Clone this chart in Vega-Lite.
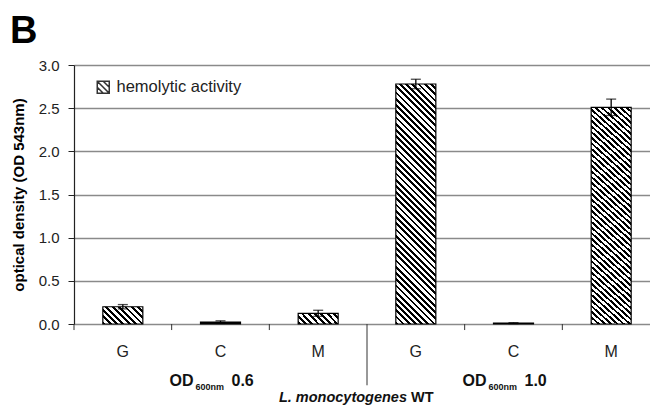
{
 "$schema": "https://vega.github.io/schema/vega-lite/v6.json",
 "autosize": "none",
 "width": 576,
 "height": 259,
 "padding": {"left": 74, "top": 65, "right": 0, "bottom": 89},
 "background": "white",
 "title": {"text": "B", "anchor": "start", "frame": "group", "fontSize": 38, "font": "Liberation Sans", "fontWeight": "bold", "color": "#000", "baseline": "alphabetic", "offset": 14, "dx": -64, "dy": 37},
 "config": {"view": {"stroke": null}, "font": "Liberation Sans"},
 "datasets": {
  "bars": [
   {"id": "G1", "value": 0.2, "err": 0.025},
   {"id": "C1", "value": 0.022, "err": 0.015},
   {"id": "M1", "value": 0.124, "err": 0.035},
   {"id": "G2", "value": 2.78, "err": 0.055},
   {"id": "C2", "value": 0.01, "err": 0.005},
   {"id": "M2", "value": 2.51, "err": 0.095}
  ]
 },
 "layer": [
  {
   "data": {"name": "bars"},
   "mark": {"type": "bar", "width": 40, "stroke": "#000", "strokeWidth": 1.2},
   "encoding": {
    "x": {"field": "id", "type": "nominal", "sort": null,
     "scale": {"domain": ["G1","C1","M1","G2","C2","M2"], "range": [0, 586], "paddingInner": 0, "paddingOuter": 0},
     "axis": {"title": null, "labelExpr": "datum.value ? substring(datum.value,0,1) : ''", "ticks": false, "domain": false, "labelAngle": 0, "labelFont": "Liberation Sans", "labelFontSize": 16, "labelColor": "#222", "labelPadding": 19, "grid": false}},
    "y": {"field": "value", "type": "quantitative",
     "scale": {"domain": [0, 3], "nice": false, "zero": true},
     "axis": {"title": "optical density (OD 543nm)", "values": [0, 0.5, 1, 1.5, 2, 2.5, 3], "format": ".1f", "grid": true, "gridColor": "#8a8a8a", "gridWidth": 1.3, "domainColor": "#222", "domainWidth": 1.2, "tickColor": "#222", "tickSize": 6, "labelPadding": 9, "labelFont": "Liberation Sans", "labelFontSize": 15, "labelColor": "#222", "titleFont": "Liberation Sans", "titleFontSize": 15, "titleFontWeight": "bold", "titleColor": "#000", "titlePadding": 14, "minExtent": 34, "maxExtent": 34}},
    "fill": {
     "condition": [
      {"test": "datum.id === 'G2' || datum.id === 'M2'", "value": {"gradient": "linear", "x1": 0, "y1": 1, "x2": 0.1892, "y2": -0.1351, "stops": [
       {"offset":0,"color":"#000"},{"offset":0.01,"color":"#000"},{"offset":0.01,"color":"#fff"},{"offset":0.0222,"color":"#fff"},
       {"offset":0.0222,"color":"#000"},{"offset":0.0322,"color":"#000"},{"offset":0.0322,"color":"#fff"},{"offset":0.0444,"color":"#fff"},
       {"offset":0.0444,"color":"#000"},{"offset":0.0544,"color":"#000"},{"offset":0.0544,"color":"#fff"},{"offset":0.0667,"color":"#fff"},
       {"offset":0.0667,"color":"#000"},{"offset":0.0767,"color":"#000"},{"offset":0.0767,"color":"#fff"},{"offset":0.0889,"color":"#fff"},
       {"offset":0.0889,"color":"#000"},{"offset":0.0989,"color":"#000"},{"offset":0.0989,"color":"#fff"},{"offset":0.1111,"color":"#fff"},
       {"offset":0.1111,"color":"#000"},{"offset":0.1211,"color":"#000"},{"offset":0.1211,"color":"#fff"},{"offset":0.1333,"color":"#fff"},
       {"offset":0.1333,"color":"#000"},{"offset":0.1433,"color":"#000"},{"offset":0.1433,"color":"#fff"},{"offset":0.1556,"color":"#fff"},
       {"offset":0.1556,"color":"#000"},{"offset":0.1656,"color":"#000"},{"offset":0.1656,"color":"#fff"},{"offset":0.1778,"color":"#fff"},
       {"offset":0.1778,"color":"#000"},{"offset":0.1878,"color":"#000"},{"offset":0.1878,"color":"#fff"},{"offset":0.2,"color":"#fff"},
       {"offset":0.2,"color":"#000"},{"offset":0.21,"color":"#000"},{"offset":0.21,"color":"#fff"},{"offset":0.2222,"color":"#fff"},
       {"offset":0.2222,"color":"#000"},{"offset":0.2322,"color":"#000"},{"offset":0.2322,"color":"#fff"},{"offset":0.2444,"color":"#fff"},
       {"offset":0.2444,"color":"#000"},{"offset":0.2544,"color":"#000"},{"offset":0.2544,"color":"#fff"},{"offset":0.2667,"color":"#fff"},
       {"offset":0.2667,"color":"#000"},{"offset":0.2767,"color":"#000"},{"offset":0.2767,"color":"#fff"},{"offset":0.2889,"color":"#fff"},
       {"offset":0.2889,"color":"#000"},{"offset":0.2989,"color":"#000"},{"offset":0.2989,"color":"#fff"},{"offset":0.3111,"color":"#fff"},
       {"offset":0.3111,"color":"#000"},{"offset":0.3211,"color":"#000"},{"offset":0.3211,"color":"#fff"},{"offset":0.3333,"color":"#fff"},
       {"offset":0.3333,"color":"#000"},{"offset":0.3433,"color":"#000"},{"offset":0.3433,"color":"#fff"},{"offset":0.3556,"color":"#fff"},
       {"offset":0.3556,"color":"#000"},{"offset":0.3656,"color":"#000"},{"offset":0.3656,"color":"#fff"},{"offset":0.3778,"color":"#fff"},
       {"offset":0.3778,"color":"#000"},{"offset":0.3878,"color":"#000"},{"offset":0.3878,"color":"#fff"},{"offset":0.4,"color":"#fff"},
       {"offset":0.4,"color":"#000"},{"offset":0.41,"color":"#000"},{"offset":0.41,"color":"#fff"},{"offset":0.4222,"color":"#fff"},
       {"offset":0.4222,"color":"#000"},{"offset":0.4322,"color":"#000"},{"offset":0.4322,"color":"#fff"},{"offset":0.4444,"color":"#fff"},
       {"offset":0.4444,"color":"#000"},{"offset":0.4544,"color":"#000"},{"offset":0.4544,"color":"#fff"},{"offset":0.4667,"color":"#fff"},
       {"offset":0.4667,"color":"#000"},{"offset":0.4767,"color":"#000"},{"offset":0.4767,"color":"#fff"},{"offset":0.4889,"color":"#fff"},
       {"offset":0.4889,"color":"#000"},{"offset":0.4989,"color":"#000"},{"offset":0.4989,"color":"#fff"},{"offset":0.5111,"color":"#fff"},
       {"offset":0.5111,"color":"#000"},{"offset":0.5211,"color":"#000"},{"offset":0.5211,"color":"#fff"},{"offset":0.5333,"color":"#fff"},
       {"offset":0.5333,"color":"#000"},{"offset":0.5433,"color":"#000"},{"offset":0.5433,"color":"#fff"},{"offset":0.5556,"color":"#fff"},
       {"offset":0.5556,"color":"#000"},{"offset":0.5656,"color":"#000"},{"offset":0.5656,"color":"#fff"},{"offset":0.5778,"color":"#fff"},
       {"offset":0.5778,"color":"#000"},{"offset":0.5878,"color":"#000"},{"offset":0.5878,"color":"#fff"},{"offset":0.6,"color":"#fff"},
       {"offset":0.6,"color":"#000"},{"offset":0.61,"color":"#000"},{"offset":0.61,"color":"#fff"},{"offset":0.6222,"color":"#fff"},
       {"offset":0.6222,"color":"#000"},{"offset":0.6322,"color":"#000"},{"offset":0.6322,"color":"#fff"},{"offset":0.6444,"color":"#fff"},
       {"offset":0.6444,"color":"#000"},{"offset":0.6544,"color":"#000"},{"offset":0.6544,"color":"#fff"},{"offset":0.6667,"color":"#fff"},
       {"offset":0.6667,"color":"#000"},{"offset":0.6767,"color":"#000"},{"offset":0.6767,"color":"#fff"},{"offset":0.6889,"color":"#fff"},
       {"offset":0.6889,"color":"#000"},{"offset":0.6989,"color":"#000"},{"offset":0.6989,"color":"#fff"},{"offset":0.7111,"color":"#fff"},
       {"offset":0.7111,"color":"#000"},{"offset":0.7211,"color":"#000"},{"offset":0.7211,"color":"#fff"},{"offset":0.7333,"color":"#fff"},
       {"offset":0.7333,"color":"#000"},{"offset":0.7433,"color":"#000"},{"offset":0.7433,"color":"#fff"},{"offset":0.7556,"color":"#fff"},
       {"offset":0.7556,"color":"#000"},{"offset":0.7656,"color":"#000"},{"offset":0.7656,"color":"#fff"},{"offset":0.7778,"color":"#fff"},
       {"offset":0.7778,"color":"#000"},{"offset":0.7878,"color":"#000"},{"offset":0.7878,"color":"#fff"},{"offset":0.8,"color":"#fff"},
       {"offset":0.8,"color":"#000"},{"offset":0.81,"color":"#000"},{"offset":0.81,"color":"#fff"},{"offset":0.8222,"color":"#fff"},
       {"offset":0.8222,"color":"#000"},{"offset":0.8322,"color":"#000"},{"offset":0.8322,"color":"#fff"},{"offset":0.8444,"color":"#fff"},
       {"offset":0.8444,"color":"#000"},{"offset":0.8544,"color":"#000"},{"offset":0.8544,"color":"#fff"},{"offset":0.8667,"color":"#fff"},
       {"offset":0.8667,"color":"#000"},{"offset":0.8767,"color":"#000"},{"offset":0.8767,"color":"#fff"},{"offset":0.8889,"color":"#fff"},
       {"offset":0.8889,"color":"#000"},{"offset":0.8989,"color":"#000"},{"offset":0.8989,"color":"#fff"},{"offset":0.9111,"color":"#fff"},
       {"offset":0.9111,"color":"#000"},{"offset":0.9211,"color":"#000"},{"offset":0.9211,"color":"#fff"},{"offset":0.9333,"color":"#fff"},
       {"offset":0.9333,"color":"#000"},{"offset":0.9433,"color":"#000"},{"offset":0.9433,"color":"#fff"},{"offset":0.9556,"color":"#fff"},
       {"offset":0.9556,"color":"#000"},{"offset":0.9656,"color":"#000"},{"offset":0.9656,"color":"#fff"},{"offset":0.9778,"color":"#fff"},
       {"offset":0.9778,"color":"#000"},{"offset":0.9878,"color":"#000"},{"offset":0.9878,"color":"#fff"},{"offset":1,"color":"#fff"}
      ]}},
      {"test": "datum.id === 'G1'", "value": {"gradient": "linear", "x1": 0, "y1": 1, "x2": 1.2068, "y2": 0.479, "stops": [
       {"offset":0,"color":"#000"},{"offset":0.05,"color":"#000"},{"offset":0.05,"color":"#fff"},{"offset":0.1111,"color":"#fff"},
       {"offset":0.1111,"color":"#000"},{"offset":0.1611,"color":"#000"},{"offset":0.1611,"color":"#fff"},{"offset":0.2222,"color":"#fff"},
       {"offset":0.2222,"color":"#000"},{"offset":0.2722,"color":"#000"},{"offset":0.2722,"color":"#fff"},{"offset":0.3333,"color":"#fff"},
       {"offset":0.3333,"color":"#000"},{"offset":0.3833,"color":"#000"},{"offset":0.3833,"color":"#fff"},{"offset":0.4444,"color":"#fff"},
       {"offset":0.4444,"color":"#000"},{"offset":0.4944,"color":"#000"},{"offset":0.4944,"color":"#fff"},{"offset":0.5556,"color":"#fff"},
       {"offset":0.5556,"color":"#000"},{"offset":0.6056,"color":"#000"},{"offset":0.6056,"color":"#fff"},{"offset":0.6667,"color":"#fff"},
       {"offset":0.6667,"color":"#000"},{"offset":0.7167,"color":"#000"},{"offset":0.7167,"color":"#fff"},{"offset":0.7778,"color":"#fff"},
       {"offset":0.7778,"color":"#000"},{"offset":0.8278,"color":"#000"},{"offset":0.8278,"color":"#fff"},{"offset":0.8889,"color":"#fff"},
       {"offset":0.8889,"color":"#000"},{"offset":0.9389,"color":"#000"},{"offset":0.9389,"color":"#fff"},{"offset":1,"color":"#fff"}
      ]}},
      {"test": "datum.id === 'M1'", "value": {"gradient": "linear", "x1": 0, "y1": 1, "x2": 1.1799, "y2": 0.6944, "stops": [
       {"offset":0,"color":"#000"},{"offset":0.0563,"color":"#000"},{"offset":0.0563,"color":"#fff"},{"offset":0.125,"color":"#fff"},
       {"offset":0.125,"color":"#000"},{"offset":0.1813,"color":"#000"},{"offset":0.1813,"color":"#fff"},{"offset":0.25,"color":"#fff"},
       {"offset":0.25,"color":"#000"},{"offset":0.3063,"color":"#000"},{"offset":0.3063,"color":"#fff"},{"offset":0.375,"color":"#fff"},
       {"offset":0.375,"color":"#000"},{"offset":0.4313,"color":"#000"},{"offset":0.4313,"color":"#fff"},{"offset":0.5,"color":"#fff"},
       {"offset":0.5,"color":"#000"},{"offset":0.5563,"color":"#000"},{"offset":0.5563,"color":"#fff"},{"offset":0.625,"color":"#fff"},
       {"offset":0.625,"color":"#000"},{"offset":0.6813,"color":"#000"},{"offset":0.6813,"color":"#fff"},{"offset":0.75,"color":"#fff"},
       {"offset":0.75,"color":"#000"},{"offset":0.8063,"color":"#000"},{"offset":0.8063,"color":"#fff"},{"offset":0.875,"color":"#fff"},
       {"offset":0.875,"color":"#000"},{"offset":0.9313,"color":"#000"},{"offset":0.9313,"color":"#fff"},{"offset":1,"color":"#fff"}
      ]}}
     ],
     "value": "#000"
    }
   }
  },
  {
   "data": {"name": "bars"},
   "mark": {"type": "errorbar", "rule": {"color": "#000", "strokeWidth": 1.3}, "ticks": {"color": "#000", "size": 10, "thickness": 1.3}},
   "encoding": {
    "x": {"field": "id", "type": "nominal", "sort": null, "scale": {"domain": ["G1","C1","M1","G2","C2","M2"], "range": [0, 586], "paddingInner": 0, "paddingOuter": 0}},
    "y": {"field": "value", "type": "quantitative", "scale": {"domain": [0, 3], "nice": false, "zero": true}, "title": "optical density (OD 543nm)"},
    "yError": {"field": "err"}
   }
  },
  {
   "data": {"values": [{"id": "G1"}, {"id": "C1"}, {"id": "M1"}, {"id": "C2"}, {"id": "M2"}]},
   "mark": {"type": "rule", "strokeWidth": 1, "color": "#333"},
   "encoding": {
    "x": {"field": "id", "type": "nominal", "bandPosition": 0, "scale": {"domain": ["G1","C1","M1","G2","C2","M2"], "range": [0, 586], "paddingInner": 0, "paddingOuter": 0}},
    "y": {"datum": 0},
    "y2": {"datum": -0.07}
   }
  },
  {
   "data": {"values": [{"id": "G2", "series": "hemolytic activity"}]},
   "mark": {"type": "rule", "strokeWidth": 1},
   "encoding": {
    "x": {"field": "id", "type": "nominal", "bandPosition": 0, "scale": {"domain": ["G1","C1","M1","G2","C2","M2"], "range": [0, 586], "paddingInner": 0, "paddingOuter": 0}},
    "y": {"datum": 0},
    "y2": {"datum": -0.71},
    "stroke": {"field": "series", "type": "nominal", "scale": {"range": ["#333"]},
     "legend": {"title": null, "orient": "none", "legendX": 21, "legendY": 14, "symbolType": "M-1,-1H1V1H-1Z M-1,-1L1,1 M-1,0L0,1 M0,-1L1,0", "symbolSize": 144, "symbolStrokeWidth": 1.5, "symbolFillColor": "#fff", "symbolStrokeColor": "#000", "labelFont": "Liberation Sans", "labelFontSize": 16.5, "labelColor": "#222", "labelOffset": 5, "padding": 0}}
   }
  },
  {
   "data": {"values": [{"id": "C1", "label": "OD"}, {"id": "C2", "label": "OD"}]},
   "mark": {"type": "text", "font": "Liberation Sans", "fontSize": 16, "fontWeight": "bold", "baseline": "alphabetic", "align": "right", "dx": -27, "color": "#111"},
   "encoding": {
    "x": {"field": "id", "type": "nominal", "scale": {"domain": ["G1","C1","M1","G2","C2","M2"], "range": [0, 586], "paddingInner": 0, "paddingOuter": 0}},
    "y": {"datum": -0.718},
    "text": {"field": "label"}
   }
  },
  {
   "data": {"values": [{"id": "C1", "label": "600nm"}, {"id": "C2", "label": "600nm"}]},
   "mark": {"type": "text", "font": "Liberation Sans", "fontSize": 9, "fontWeight": "bold", "baseline": "alphabetic", "align": "left", "dx": -25, "color": "#111"},
   "encoding": {
    "x": {"field": "id", "type": "nominal", "scale": {"domain": ["G1","C1","M1","G2","C2","M2"], "range": [0, 586], "paddingInner": 0, "paddingOuter": 0}},
    "y": {"datum": -0.765},
    "text": {"field": "label"}
   }
  },
  {
   "data": {"values": [{"id": "C1", "label": "0.6"}, {"id": "C2", "label": "1.0"}]},
   "mark": {"type": "text", "font": "Liberation Sans", "fontSize": 16, "fontWeight": "bold", "baseline": "alphabetic", "align": "left", "dx": 11, "color": "#111"},
   "encoding": {
    "x": {"field": "id", "type": "nominal", "scale": {"domain": ["G1","C1","M1","G2","C2","M2"], "range": [0, 586], "paddingInner": 0, "paddingOuter": 0}},
    "y": {"datum": -0.718},
    "text": {"field": "label"}
   }
  },
  {
   "data": {"values": [{"id": "G2", "label": "L. monocytogenes"}]},
   "mark": {"type": "text", "font": "Liberation Sans", "fontSize": 14.5, "fontWeight": "bold", "fontStyle": "italic", "baseline": "alphabetic", "align": "right", "dx": 40, "color": "#111"},
   "encoding": {
    "x": {"field": "id", "type": "nominal", "bandPosition": 0, "scale": {"domain": ["G1","C1","M1","G2","C2","M2"], "range": [0, 586], "paddingInner": 0, "paddingOuter": 0}},
    "y": {"datum": -0.9035},
    "text": {"field": "label"}
   }
  },
  {
   "data": {"values": [{"id": "G2", "label": "WT"}]},
   "mark": {"type": "text", "font": "Liberation Sans", "fontSize": 14.5, "fontWeight": "bold", "baseline": "alphabetic", "align": "left", "dx": 44, "color": "#111"},
   "encoding": {
    "x": {"field": "id", "type": "nominal", "bandPosition": 0, "scale": {"domain": ["G1","C1","M1","G2","C2","M2"], "range": [0, 586], "paddingInner": 0, "paddingOuter": 0}},
    "y": {"datum": -0.9035},
    "text": {"field": "label"}
   }
  }
 ]
}
